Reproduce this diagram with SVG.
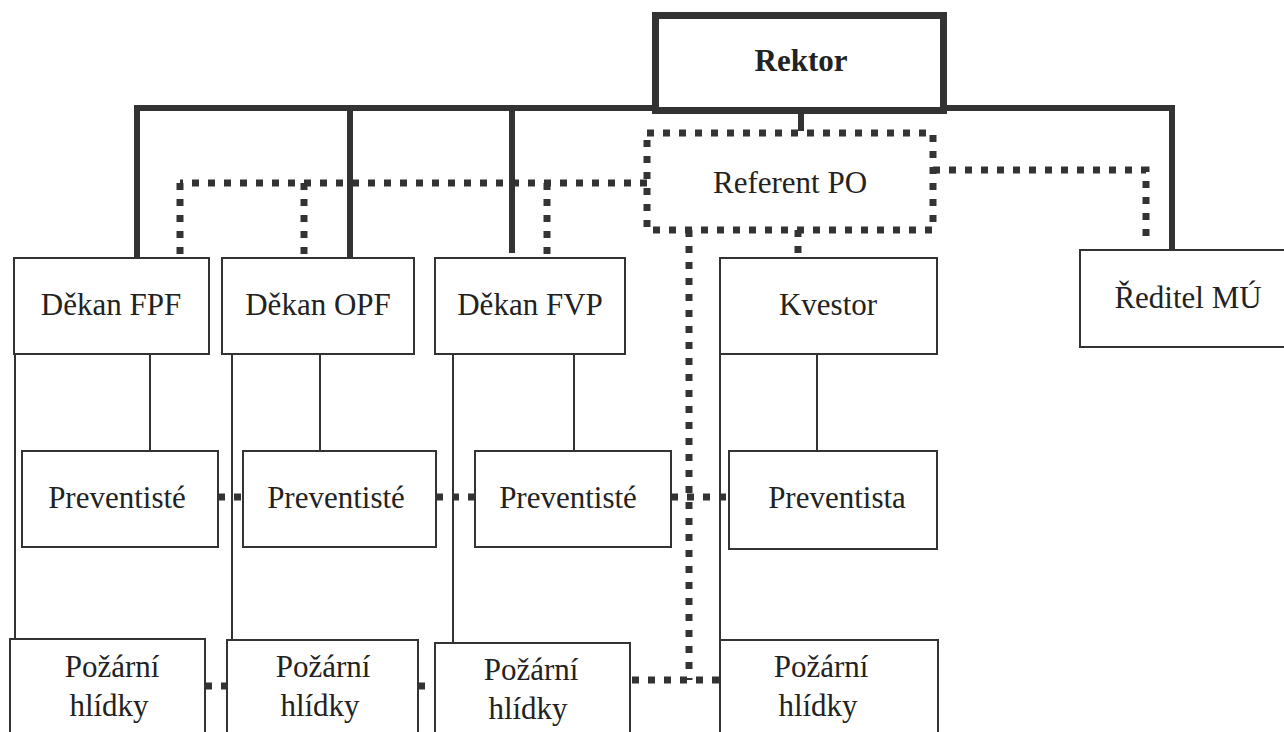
<svg xmlns="http://www.w3.org/2000/svg" width="1284" height="732" viewBox="0 0 1284 732">
<style>
.box{fill:#fff;stroke:#333;stroke-width:2}
.rk{fill:#fff;stroke:#333;stroke-width:7}
.ref{fill:none;stroke:#333;stroke-width:7;stroke-dasharray:7 9}
.lbl{font-family:"Liberation Serif",serif !important;font-size:31px;fill:#222;text-anchor:middle}
.bold{font-weight:bold}
.thick{fill:none;stroke:#333;stroke-width:6}
.thin{fill:none;stroke:#333;stroke-width:2}
.dot{fill:none;stroke:#333;stroke-width:7;stroke-dasharray:7 9}
</style>
<rect width="1284" height="732" fill="#fff"/>
<g id="connectors">
<path class="thick" d="M134,108H1175M137,108V258M350,108V258M512,108V253M1172,108V250M801,110V131"/>
<path class="thin" d="M150,354V451M15,354V639M232,354V640M320,354V451M453,354V643M574,354V451M720,354V640M817,354V451"/>
<path class="dot" d="M647,183H180M180,183V258M304,183V258M547,183V258"/>
<path class="dot" d="M933,170H1146V240"/>
<path class="dot" d="M689,230V680M632,680H722"/>
<path class="dot" d="M798,230V258"/>
<path class="dot" d="M218,497H243M436,497H475M671,497H729"/>
<path class="dot" d="M205,686H227M418,686H435"/>
</g>
<g id="rektor"><rect class="rk" x="655.5" y="15.5" width="288" height="95"/><text class="lbl bold" style="font-family:'Liberation Serif',serif" x="801" y="71">Rektor</text></g>
<g id="referent"><rect class="ref" x="647" y="133" width="286" height="97"/><text class="lbl" style="font-family:'Liberation Serif',serif" x="790" y="193">Referent PO</text></g>
<g id="dekan-fpf"><rect class="box" x="14" y="258" width="195" height="96"/><text class="lbl" style="font-family:'Liberation Serif',serif" x="111" y="315">Děkan FPF</text></g>
<g id="dekan-opf"><rect class="box" x="222" y="258" width="192" height="96"/><text class="lbl" style="font-family:'Liberation Serif',serif" x="318" y="315">Děkan OPF</text></g>
<g id="dekan-fvp"><rect class="box" x="435" y="258" width="190" height="96"/><text class="lbl" style="font-family:'Liberation Serif',serif" x="530" y="315">Děkan FVP</text></g>
<g id="kvestor"><rect class="box" x="720" y="258" width="217" height="96"/><text class="lbl" style="font-family:'Liberation Serif',serif" x="828" y="315">Kvestor</text></g>
<g id="reditel"><rect class="box" x="1080" y="250" width="220" height="97"/><text class="lbl" style="font-family:'Liberation Serif',serif" x="1188" y="308">Ředitel MÚ</text></g>
<g id="prev-1"><rect class="box" x="22" y="451" width="196" height="96"/><text class="lbl" style="font-family:'Liberation Serif',serif" x="117" y="508">Preventisté</text></g>
<g id="prev-2"><rect class="box" x="243" y="451" width="193" height="96"/><text class="lbl" style="font-family:'Liberation Serif',serif" x="336" y="508">Preventisté</text></g>
<g id="prev-3"><rect class="box" x="475" y="451" width="196" height="96"/><text class="lbl" style="font-family:'Liberation Serif',serif" x="568" y="508">Preventisté</text></g>
<g id="prev-4"><rect class="box" x="729" y="451" width="208" height="98"/><text class="lbl" style="font-family:'Liberation Serif',serif" x="837" y="508">Preventista</text></g>
<g id="hl-1"><rect class="box" x="10" y="639" width="195" height="110"/><text class="lbl" style="font-family:'Liberation Serif',serif" x="112" y="677">Požární</text><text class="lbl" style="font-family:'Liberation Serif',serif" x="109" y="716">hlídky</text></g>
<g id="hl-2"><rect class="box" x="227" y="640" width="191" height="110"/><text class="lbl" style="font-family:'Liberation Serif',serif" x="323" y="677">Požární</text><text class="lbl" style="font-family:'Liberation Serif',serif" x="320" y="716">hlídky</text></g>
<g id="hl-3"><rect class="box" x="435" y="643" width="195" height="110"/><text class="lbl" style="font-family:'Liberation Serif',serif" x="531" y="680">Požární</text><text class="lbl" style="font-family:'Liberation Serif',serif" x="528" y="719">hlídky</text></g>
<g id="hl-4"><rect class="box" x="720" y="640" width="218" height="110"/><text class="lbl" style="font-family:'Liberation Serif',serif" x="821" y="677">Požární</text><text class="lbl" style="font-family:'Liberation Serif',serif" x="818" y="716">hlídky</text></g>
</svg>
